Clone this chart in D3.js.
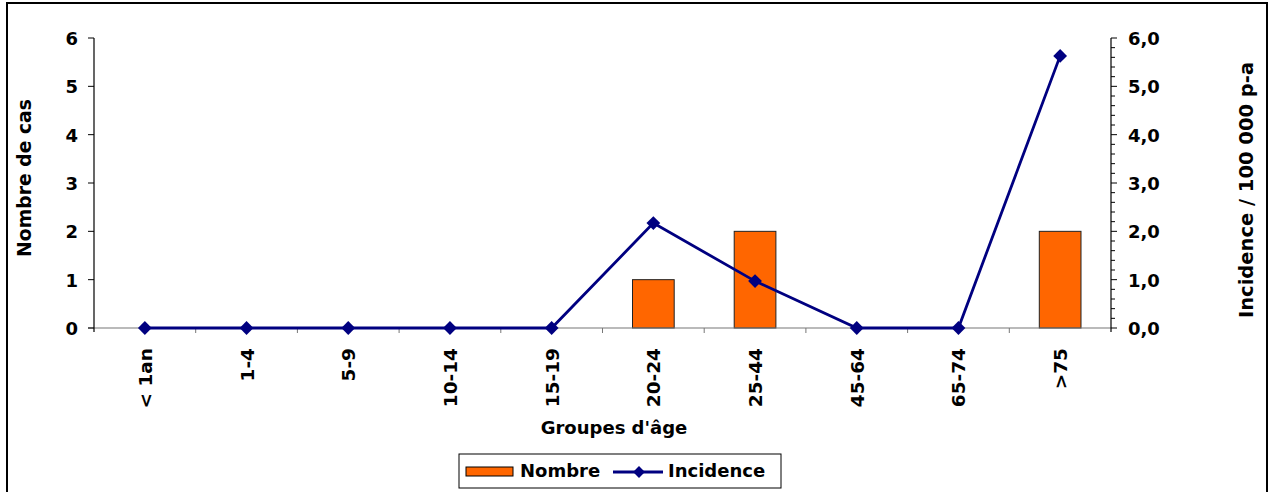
<!DOCTYPE html>
<html>
<head>
<meta charset="utf-8">
<script src="https://cdn.jsdelivr.net/npm/d3@7"></script>
<style>
  html, body { margin: 0; padding: 0; background: #fff; }
  svg text { font-family: "DejaVu Sans", Verdana, sans-serif; font-weight: bold; fill: #000; }
</style>
</head>
<body>
<svg id="chart" width="1271" height="492"></svg>
<script>
// Cas et incidence par groupe d'âge
const ageGroups = ["< 1an", "1-4", "5-9", "10-14", "15-19", "20-24", "25-44", "45-64", "65-74", ">75"];
const nombreCas = [0, 0, 0, 0, 0, 1, 2, 0, 0, 2];
const incidence = [0, 0, 0, 0, 0, 2.17, 0.97, 0, 0, 5.63];
const leftTicks = [0, 1, 2, 3, 4, 5, 6];
const rightTicks = [0, 1, 2, 3, 4, 5, 6];

const svg = d3.select("#chart");
const plot = { left: 94, right: 1111, top: 38, bottom: 328 };
const FS = 18;

// outer frame
svg.append("rect")
  .attr("x", 7).attr("y", 3).attr("width", 1260).attr("height", 495)
  .attr("fill", "#fff").attr("stroke", "#000").attr("stroke-width", 2);

const x = d3.scaleBand().domain(ageGroups).range([plot.left, plot.right]).paddingInner(0).paddingOuter(0);
const yLeft = d3.scaleLinear().domain([0, 6]).range([plot.bottom, plot.top]);
const yRight = d3.scaleLinear().domain([0, 6]).range([plot.bottom, plot.top]);

// bars
const barW = x.bandwidth() * 0.41;
svg.append("g").selectAll("rect")
  .data(ageGroups.map((g, i) => ({ g, v: nombreCas[i] })).filter(d => d.v > 0))
  .join("rect")
  .attr("x", d => x(d.g) + (x.bandwidth() - barW) / 2)
  .attr("y", d => yLeft(d.v))
  .attr("width", barW)
  .attr("height", d => yLeft(0) - yLeft(d.v))
  .attr("fill", "#FF6600")
  .attr("stroke", "#222")
  .attr("stroke-width", 1);

// category axis
const xAxis = svg.append("g").attr("transform", `translate(0,${plot.bottom})`);
xAxis.append("line")
  .attr("x1", plot.left - 6).attr("x2", plot.right)
  .attr("y1", 0).attr("y2", 0)
  .attr("stroke", "#777").attr("stroke-width", 1.2);
const bounds = ageGroups.map(g => x(g)).slice(1);
xAxis.selectAll("line.tick").data(bounds).join("line")
  .attr("class", "tick")
  .attr("x1", d => d).attr("x2", d => d)
  .attr("y1", 0).attr("y2", 5)
  .attr("stroke", "#777").attr("stroke-width", 1);
xAxis.selectAll("text").data(ageGroups).join("text")
  .attr("transform", d => `translate(${x(d) + x.bandwidth() / 2 + 7},20) rotate(-90)`)
  .attr("text-anchor", "end")
  .attr("font-size", 18.5)
  .text(d => d);

// left axis
const gl = svg.append("g").attr("transform", `translate(${plot.left},0)`);
gl.append("line").attr("x1", 0).attr("x2", 0)
  .attr("y1", plot.top).attr("y2", plot.bottom + 4)
  .attr("stroke", "#000").attr("stroke-width", 1.2);
gl.selectAll("line.tick").data(leftTicks).join("line")
  .attr("class", "tick")
  .attr("x1", -6).attr("x2", 0)
  .attr("y1", d => yLeft(d)).attr("y2", d => yLeft(d))
  .attr("stroke", "#000");
gl.selectAll("text").data(leftTicks).join("text")
  .attr("x", -16).attr("y", d => yLeft(d) + 7)
  .attr("text-anchor", "end")
  .attr("font-size", FS)
  .text(d => d);

// right axis
const fmt = d => d3.format(".1f")(d).replace(".", ",");
const gr = svg.append("g").attr("transform", `translate(${plot.right},0)`);
gr.append("line").attr("x1", 0).attr("x2", 0)
  .attr("y1", plot.top).attr("y2", plot.bottom + 4)
  .attr("stroke", "#000").attr("stroke-width", 1.2);
const minor = d3.range(0, 30).map(i => i * 0.2).filter(v => Math.abs(v - Math.round(v)) > 1e-6);
gr.selectAll("line.minor").data(minor).join("line")
  .attr("class", "minor")
  .attr("x1", 0).attr("x2", 4)
  .attr("y1", d => yRight(d)).attr("y2", d => yRight(d))
  .attr("stroke", "#000");
gr.selectAll("line.major").data(rightTicks).join("line")
  .attr("class", "major")
  .attr("x1", 0).attr("x2", 6)
  .attr("y1", d => yRight(d)).attr("y2", d => yRight(d))
  .attr("stroke", "#000");
gr.selectAll("text").data(rightTicks).join("text")
  .attr("x", 17).attr("y", d => yRight(d) + 7)
  .attr("text-anchor", "start")
  .attr("font-size", FS)
  .text(d => fmt(d));

// incidence line
const lineGen = d3.line()
  .x((d, i) => x(ageGroups[i]) + x.bandwidth() / 2)
  .y(d => yRight(d));
svg.append("path")
  .datum(incidence)
  .attr("d", lineGen)
  .attr("fill", "none")
  .attr("stroke", "#000080")
  .attr("stroke-width", 2.8);
svg.append("g").selectAll("path")
  .data(incidence)
  .join("path")
  .attr("transform", (d, i) => `translate(${x(ageGroups[i]) + x.bandwidth() / 2},${yRight(d)}) rotate(45)`)
  .attr("d", d3.symbol(d3.symbolSquare, 95))
  .attr("fill", "#000080");

// axis titles
svg.append("text")
  .attr("transform", `translate(31,178) rotate(-90)`)
  .attr("text-anchor", "middle").attr("font-size", 18.8)
  .text("Nombre de cas");
svg.append("text")
  .attr("transform", `translate(1253,190) rotate(-90)`)
  .attr("text-anchor", "middle").attr("font-size", 19.5)
  .text("Incidence / 100 000 p-a");
svg.append("text")
  .attr("x", 614).attr("y", 434)
  .attr("text-anchor", "middle").attr("font-size", FS)
  .text("Groupes d'âge");

// legend
const lg = svg.append("g").attr("transform", "translate(459,454)");
lg.append("rect").attr("x", 0).attr("y", 0).attr("width", 322).attr("height", 34)
  .attr("fill", "#fff").attr("stroke", "#000").attr("stroke-width", 1);
lg.append("rect").attr("x", 7).attr("y", 13).attr("width", 47).attr("height", 9)
  .attr("fill", "#FF6600").attr("stroke", "#000").attr("stroke-width", 1);
lg.append("text").attr("x", 61).attr("y", 23).attr("font-size", FS).text("Nombre");
lg.append("line").attr("x1", 154).attr("x2", 204).attr("y1", 18).attr("y2", 18)
  .attr("stroke", "#000080").attr("stroke-width", 2.8);
lg.append("path").attr("transform", "translate(180,18) rotate(45)")
  .attr("d", d3.symbol(d3.symbolSquare, 70)).attr("fill", "#000080");
lg.append("text").attr("x", 209).attr("y", 23).attr("font-size", FS).text("Incidence");
</script>
</body>
</html>
